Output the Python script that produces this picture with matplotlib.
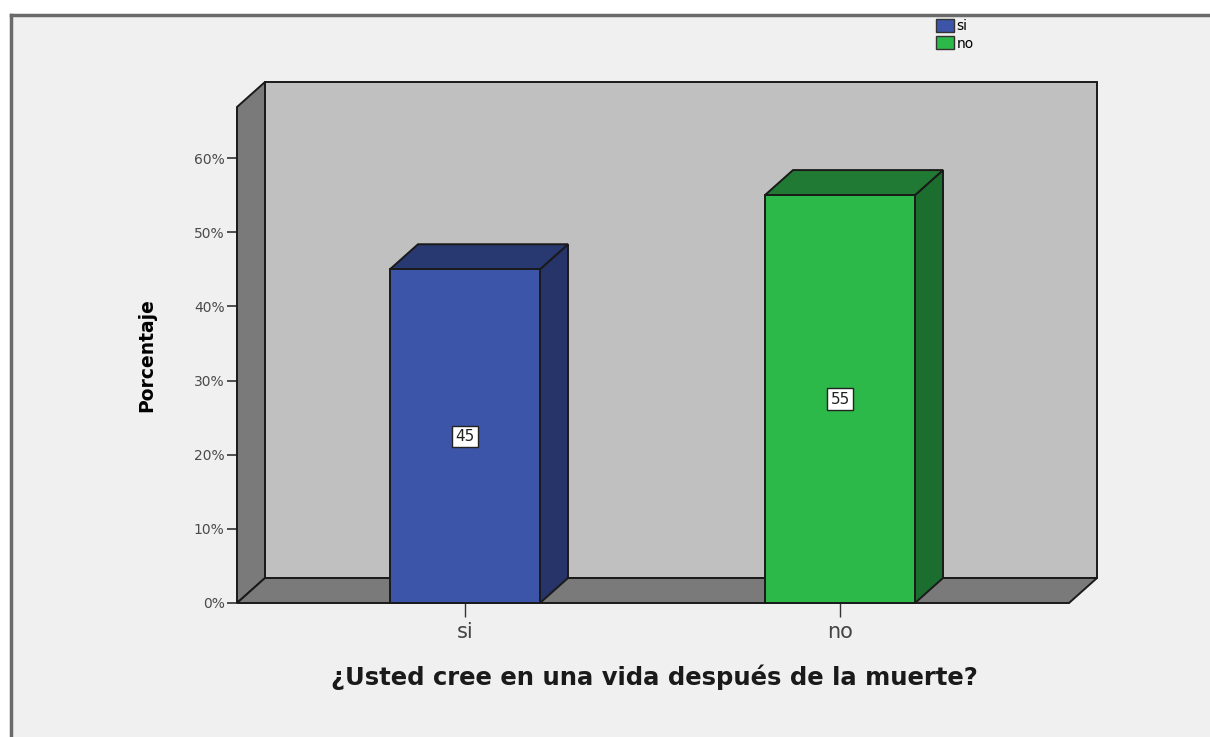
import matplotlib
matplotlib.use("Agg")
import matplotlib.pyplot as plt
from matplotlib.patches import Patch, Rectangle
from matplotlib.lines import Line2D

categories = ["si", "no"]
percent = [45, 55]
bar_labels = ["45", "55"]
yticks = [0, 10, 20, 30, 40, 50, 60]

front_colors = ["#3d55a8", "#2db84a"]
side_colors = ["#26346a", "#1c6e2e"]
top_colors = ["#283870", "#207a34"]

W, H = 1210, 737
fig = plt.figure(figsize=(W / 100, H / 100), dpi=100)
fig.patch.set_facecolor("white")

# panel background
fig.patches.append(Rectangle((10 / W, 0), 1, 1 - 15 / H, transform=fig.transFigure,
                             facecolor="#f0f0f0", edgecolor="none", zorder=-5))
fig.lines.append(Line2D([11 / W, 1], [1 - 15 / H, 1 - 15 / H], transform=fig.transFigure,
                        color="#6a6a6a", lw=2.5, zorder=-4))
fig.lines.append(Line2D([11 / W, 11 / W], [0, 1 - 15 / H], transform=fig.transFigure,
                        color="#6a6a6a", lw=2.5, zorder=-4))

# axes: front-left corner at (237, 603), back wall top-right at (1097, 82)
left, right, bottom, top = 237, 1097, 603, 82
ax = fig.add_axes([left / W, 1 - bottom / H, (right - left) / W, (bottom - top) / H])
ax.set_facecolor("none")

px_per_cat = 375.0
px_per_pct = (603 - 158) / 60.0
x0 = [0, 1]
xmin = -(465 - left) / px_per_cat
xmax = 1 + (right - 840) / px_per_cat
ymax = (bottom - top) / px_per_pct
ax.set_xlim(xmin, xmax)
ax.set_ylim(0, ymax)

dx = 28 / px_per_cat
dy = 25 / px_per_pct
wall_top = (bottom - 107) / px_per_pct
floor_right = xmax - dx
edge = dict(edgecolor="#1a1a1a", linewidth=1.4, clip_on=False)

# back wall
ax.fill([xmin + dx, xmax, xmax, xmin + dx], [dy, dy, ymax, ymax],
        facecolor="#c0c0c0", zorder=1, **edge)
# left wall
ax.fill([xmin, xmin + dx, xmin + dx, xmin], [0, dy, ymax, wall_top],
        facecolor="#7a7a7a", zorder=2, **edge)
# floor
ax.fill([xmin, floor_right, xmax, xmin + dx], [0, 0, dy, dy],
        facecolor="#7a7a7a", zorder=2, **edge)

# bars
bw = 0.4
ax.bar(x0, percent, width=bw, color=front_colors, zorder=5, **edge)
for x, v, sc, tc, lab in zip(x0, percent, side_colors, top_colors, bar_labels):
    xr = x + bw / 2
    xl = x - bw / 2
    ax.fill([xr, xr + dx, xr + dx, xr], [0, dy, v + dy, v],
            facecolor=sc, zorder=4, **edge)
    ax.fill([xl, xr, xr + dx, xl + dx], [v, v, v + dy, v + dy],
            facecolor=tc, zorder=4, **edge)
    ax.text(x, v / 2, lab, ha="center", va="center", fontsize=11, color="#222222",
            zorder=6, bbox=dict(boxstyle="square,pad=0.2", facecolor="white",
                                edgecolor="#222222", linewidth=1))

for s in ax.spines.values():
    s.set_visible(False)

ax.set_yticks(yticks)
ax.set_yticklabels([f"{t}%" for t in yticks], fontsize=10, color="#4a4a4a")
ax.set_xticks(x0)
ax.set_xticklabels(categories, fontsize=15, color="#444444")
ax.tick_params(axis="y", direction="out", length=7, width=1.2, color="#333333", pad=2)
ax.tick_params(axis="x", direction="out", length=10, width=1.0, color="#333333", pad=4)

fig.text(147 / W, 1 - 355 / H, "Porcentaje", rotation=90, ha="center", va="center",
         fontsize=13.5, fontweight="bold", family=["Liberation Sans Narrow", "DejaVu Sans"])
fig.text(654 / W, 1 - 677 / H, "¿Usted cree en una vida después de la muerte?",
         ha="center", va="center", fontsize=17.5, fontweight="bold", color="#1a1a1a")

handles = [Patch(facecolor=c, edgecolor="#333333", label=l)
           for c, l in zip(front_colors, categories)]
fig.legend(handles=handles, loc="upper left", bbox_to_anchor=(929 / W, 1 - 12 / H),
           frameon=False, fontsize=10, handlelength=1.3, handleheight=1.1,
           handletextpad=0.2, labelspacing=0.2, borderpad=0)

fig.savefig("out.png", dpi=100, facecolor=fig.get_facecolor())
